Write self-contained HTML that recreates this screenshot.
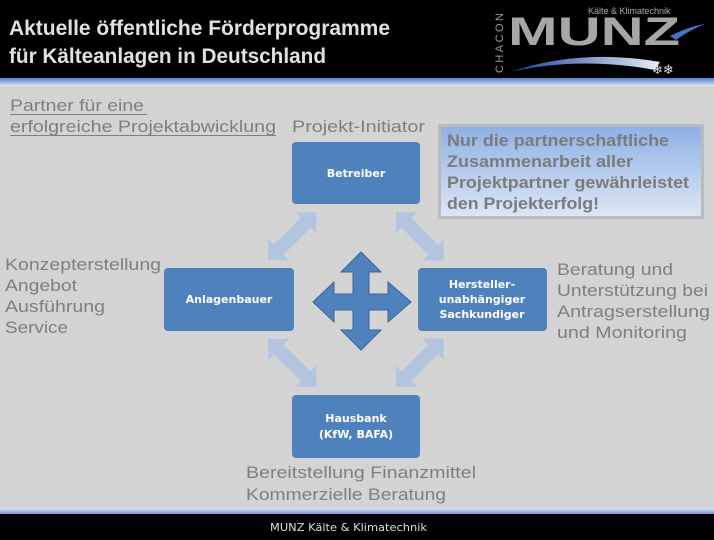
<!DOCTYPE html>
<html><head><meta charset="utf-8"><style>
html,body{margin:0;padding:0;width:714px;height:540px;overflow:hidden;background:#d4d4d4}
svg{display:block}
</style></head><body>
<svg width="714" height="540" viewBox="0 0 714 540" xmlns="http://www.w3.org/2000/svg">
<defs>
<linearGradient id="band" x1="0" y1="0" x2="0" y2="1"><stop offset="0" stop-color="#4f7fc8"/><stop offset="1" stop-color="#dfe8f5"/></linearGradient>
<linearGradient id="band2" x1="0" y1="0" x2="0" y2="1"><stop offset="0" stop-color="#dfe8f5"/><stop offset="1" stop-color="#6f96d0"/></linearGradient>
<linearGradient id="note" x1="0" y1="0" x2="0" y2="1"><stop offset="0" stop-color="#8fb1e6"/><stop offset="1" stop-color="#dde6f4"/></linearGradient>
<linearGradient id="swoosh" x1="0" y1="0" x2="1" y2="0"><stop offset="0" stop-color="#1a3c9a"/><stop offset="1" stop-color="#e8ecf8"/></linearGradient>
</defs>
<rect x="0" y="0" width="714" height="78" fill="#000"/>
<rect x="0" y="78" width="714" height="8" fill="url(#band)"/>
<text x="9" y="35" font-family="Liberation Sans, sans-serif" font-weight="bold" font-size="21" fill="#e0e0e0" textLength="381" lengthAdjust="spacingAndGlyphs">Aktuelle öffentliche Förderprogramme</text>
<text x="9" y="63" font-family="Liberation Sans, sans-serif" font-weight="bold" font-size="21" fill="#e0e0e0" textLength="317" lengthAdjust="spacingAndGlyphs">für Kälteanlagen in Deutschland</text>
<!-- logo -->
<text x="588" y="14" font-family="Liberation Sans, sans-serif" font-size="9" fill="#aaa">Kälte &amp; Klimatechnik</text>
<text x="508" y="45" font-family="Liberation Sans, sans-serif" font-weight="bold" font-size="40" fill="#a6a6a6" textLength="172" lengthAdjust="spacingAndGlyphs">MUNZ</text>
<text transform="translate(503,73) rotate(-90)" font-family="Liberation Sans, sans-serif" font-size="11" fill="#999" textLength="60" lengthAdjust="spacing">CHACON</text>
<path d="M510,72 Q580,48 660,62 L655,70 Q580,56 510,72 Z" fill="url(#swoosh)"/>
<path d="M670,36 Q690,26 705,24 Q690,30 676,40 Z" fill="#4a6fc0"/>
<text x="652" y="74" font-family="DejaVu Sans, sans-serif" font-size="13" fill="#ddd">❄❄</text>
<!-- left heading -->
<g font-family="Liberation Sans, sans-serif" font-size="17" fill="#7f7f7f">
<text x="10" y="111" textLength="134" lengthAdjust="spacingAndGlyphs">Partner für eine</text>
<text x="10" y="132" textLength="266" lengthAdjust="spacingAndGlyphs">erfolgreiche Projektabwicklung</text>
<rect x="10" y="114" width="137" height="1" fill="#7f7f7f"/>
<rect x="10" y="135" width="266" height="1" fill="#7f7f7f"/>
<text x="292" y="132" textLength="133" lengthAdjust="spacingAndGlyphs">Projekt-Initiator</text>
</g>
<!-- note box -->
<rect x="438" y="124" width="266" height="95" fill="#bbb"/>
<rect x="441" y="127" width="260" height="89" fill="url(#note)"/>
<g font-family="Liberation Sans, sans-serif" font-weight="bold" font-size="17" fill="#7b7b7b">
<text x="447" y="146" textLength="222" lengthAdjust="spacingAndGlyphs">Nur die partnerschaftliche</text>
<text x="447" y="167" textLength="186" lengthAdjust="spacingAndGlyphs">Zusammenarbeit aller</text>
<text x="447" y="188" textLength="242" lengthAdjust="spacingAndGlyphs">Projektpartner gewährleistet</text>
<text x="447" y="209" textLength="152" lengthAdjust="spacingAndGlyphs">den Projekterfolg!</text>
</g>
<!-- side texts -->
<g font-family="Liberation Sans, sans-serif" font-size="17" fill="#7f7f7f">
<text x="5" y="270" textLength="156" lengthAdjust="spacingAndGlyphs">Konzepterstellung</text>
<text x="5" y="291" textLength="72" lengthAdjust="spacingAndGlyphs">Angebot</text>
<text x="5" y="312" textLength="100" lengthAdjust="spacingAndGlyphs">Ausführung</text>
<text x="5" y="333" textLength="63" lengthAdjust="spacingAndGlyphs">Service</text>
<text x="557" y="275" textLength="116" lengthAdjust="spacingAndGlyphs">Beratung und</text>
<text x="557" y="296" textLength="151" lengthAdjust="spacingAndGlyphs">Unterstützung bei</text>
<text x="557" y="317" textLength="153" lengthAdjust="spacingAndGlyphs">Antragserstellung</text>
<text x="557" y="338" textLength="130" lengthAdjust="spacingAndGlyphs">und Monitoring</text>
<text x="246" y="478" textLength="230" lengthAdjust="spacingAndGlyphs">Bereitstellung Finanzmittel</text>
<text x="246" y="500" textLength="200" lengthAdjust="spacingAndGlyphs">Kommerzielle Beratung</text>
</g>
<!-- diagonal double arrows -->
<g fill="#b4c6df">
<g transform="translate(268,260) rotate(-44.4)"><polygon points="0,0 15,-15 15,-7 53,-7 53,-15 68,0 53,15 53,7 15,7 15,15"/></g>
<g transform="translate(396,212) rotate(45.6)"><polygon points="0,0 15,-15 15,-7 53,-7 53,-15 68,0 53,15 53,7 15,7 15,15"/></g>
<g transform="translate(268,339) rotate(44.4)"><polygon points="0,0 15,-15 15,-7 53,-7 53,-15 68,0 53,15 53,7 15,7 15,15"/></g>
<g transform="translate(396,387) rotate(-45.6)"><polygon points="0,0 15,-15 15,-7 53,-7 53,-15 68,0 53,15 53,7 15,7 15,15"/></g>
</g>
<!-- central cross arrow -->
<polygon fill="#4f81bd" stroke="#3a6596" stroke-width="1" points="361,252 381,272 369,272 369,294 388,294 388,282 411,302 388,322 388,310 369,310 369,330 381,330 361,350 341,330 353,330 353,310 334,310 334,322 313,302 334,282 334,294 353,294 353,272 341,272"/>
<!-- boxes -->
<g fill="#4f81bd">
<rect x="292" y="142" width="128" height="62" rx="4"/>
<rect x="164" y="268" width="130" height="63" rx="4"/>
<rect x="418" y="268" width="129" height="63" rx="4"/>
<rect x="292" y="395" width="128" height="63" rx="4"/>
</g>
<g font-family="DejaVu Sans, sans-serif" font-weight="bold" font-size="11" fill="#fff" text-anchor="middle">
<text x="356" y="177">Betreiber</text>
<text x="229" y="303">Anlagenbauer</text>
<text x="482" y="288">Hersteller-</text>
<text x="482" y="303">unabhängiger</text>
<text x="482" y="318">Sachkundiger</text>
<text x="356" y="422">Hausbank</text>
<text x="356" y="438">(KfW, BAFA)</text>
</g>
<!-- footer -->
<rect x="0" y="508" width="714" height="6" fill="url(#band2)"/>
<rect x="0" y="514" width="714" height="26" fill="#000"/>
<text x="270" y="531" font-family="DejaVu Sans, sans-serif" font-size="11" fill="#ddd" textLength="157" lengthAdjust="spacingAndGlyphs">MUNZ Kälte &amp; Klimatechnik</text>
</svg>
</body></html>
